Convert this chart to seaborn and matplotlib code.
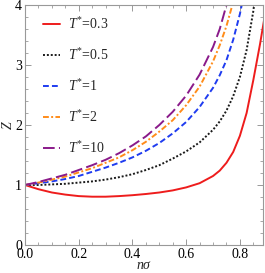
import matplotlib
matplotlib.use("Agg")
import matplotlib.pyplot as plt
import seaborn as sns
from matplotlib.ticker import MultipleLocator

# packing fraction grid
x_grid = [0.0, 0.05, 0.1, 0.15, 0.2, 0.25, 0.3, 0.35, 0.4, 0.45, 0.5,
          0.55, 0.6, 0.65, 0.7, 0.725, 0.75, 0.775, 0.8, 0.825, 0.85, 0.875, 0.89]

z_t03 = [1.0, 0.93, 0.875, 0.84, 0.815, 0.805, 0.805, 0.815, 0.83, 0.85, 0.875,
         0.91, 0.96, 1.03, 1.15, 1.24, 1.37, 1.55, 1.82, 2.2, 2.75, 3.35, 3.75]
z_t05 = [1.0, 1.0, 1.01, 1.02, 1.04, 1.06, 1.09, 1.13, 1.18, 1.25, 1.33,
         1.44, 1.56, 1.71, 1.92, 2.06, 2.24, 2.48, 2.8, 3.25, 3.9, 4.8, 5.5]
z_t1 = [1.0, 1.03, 1.06, 1.10, 1.15, 1.22, 1.29, 1.37, 1.46, 1.57, 1.70,
        1.86, 2.05, 2.30, 2.62, 2.83, 3.08, 3.42, 3.85, 4.4, 5.1, 6.0, 6.5]
z_t2 = [1.0, 1.04, 1.09, 1.14, 1.21, 1.28, 1.37, 1.46, 1.58, 1.72, 1.89,
        2.08, 2.33, 2.64, 3.06, 3.33, 3.65, 4.05, 4.6, 5.3, 6.2, 7.3, 8.0]
z_t10 = [1.0, 1.05, 1.11, 1.17, 1.25, 1.33, 1.42, 1.53, 1.66, 1.81, 2.0,
         2.22, 2.49, 2.84, 3.3, 3.6, 4.0, 4.4, 5.0, 5.7, 6.6, 8.0, 9.0]

labels = [r'$T^{*}$=0.3', r'$T^{*}$=0.5', r'$T^{*}$=1', r'$T^{*}$=2', r'$T^{*}$=10']
colors = ['#ee1c1c', '#1a1a1a', '#1f3cf0', '#ff8c1a', '#8a1a8a']
dash_styles = [None, (1, 1), (3, 1.6), (3, 1.2, 1, 1.2), (6, 2.2)]

sns.set_theme(style="ticks")
plt.rcParams['font.family'] = ['Liberation Serif', 'DejaVu Serif']
plt.rcParams['mathtext.fontset'] = 'custom'
plt.rcParams['mathtext.rm'] = 'Liberation Serif'
plt.rcParams['mathtext.it'] = 'Liberation Serif:italic'

fig = plt.figure(figsize=(2.65, 2.73), dpi=100)
ax = fig.add_axes([25 / 265, 28 / 273, 238 / 265, 240 / 273])

series = [z_t03, z_t05, z_t1, z_t2, z_t10]
for z, lab, col, ds in zip(series, labels, colors, dash_styles):
    sns.lineplot(x=x_grid, y=z, color=col, linewidth=1.4, label=lab, ax=ax)
    if ds is not None:
        ax.lines[-1].set_dashes(ds)

ax.set_xlim(0, 0.886)
ax.set_ylim(0, 4)
ax.xaxis.set_major_locator(MultipleLocator(0.2))
ax.xaxis.set_minor_locator(MultipleLocator(0.05))
ax.yaxis.set_major_locator(MultipleLocator(1))
ax.yaxis.set_minor_locator(MultipleLocator(0.2))
ax.xaxis.set_major_formatter(plt.FormatStrFormatter('%.1f'))

for s in ax.spines.values():
    s.set_color('#999999')
    s.set_linewidth(0.8)
ax.tick_params(which='both', direction='in', top=True, right=True,
               color='#999999', labelsize=10, labelcolor='black', pad=2)
ax.tick_params(which='major', length=4, width=0.7)
ax.tick_params(which='minor', length=2, width=0.6)

ax.set_xlabel(r'$n\sigma$', fontsize=10, labelpad=-1)
ax.set_ylabel(r'$Z$', fontsize=10, labelpad=0)

ax.legend(loc='upper left', frameon=False, fontsize=10, handlelength=1.2,
          handletextpad=0.6, labelspacing=1.08, borderaxespad=0.4,
          bbox_to_anchor=(0.03, 1.0))

fig.savefig('out.png', dpi=100)
